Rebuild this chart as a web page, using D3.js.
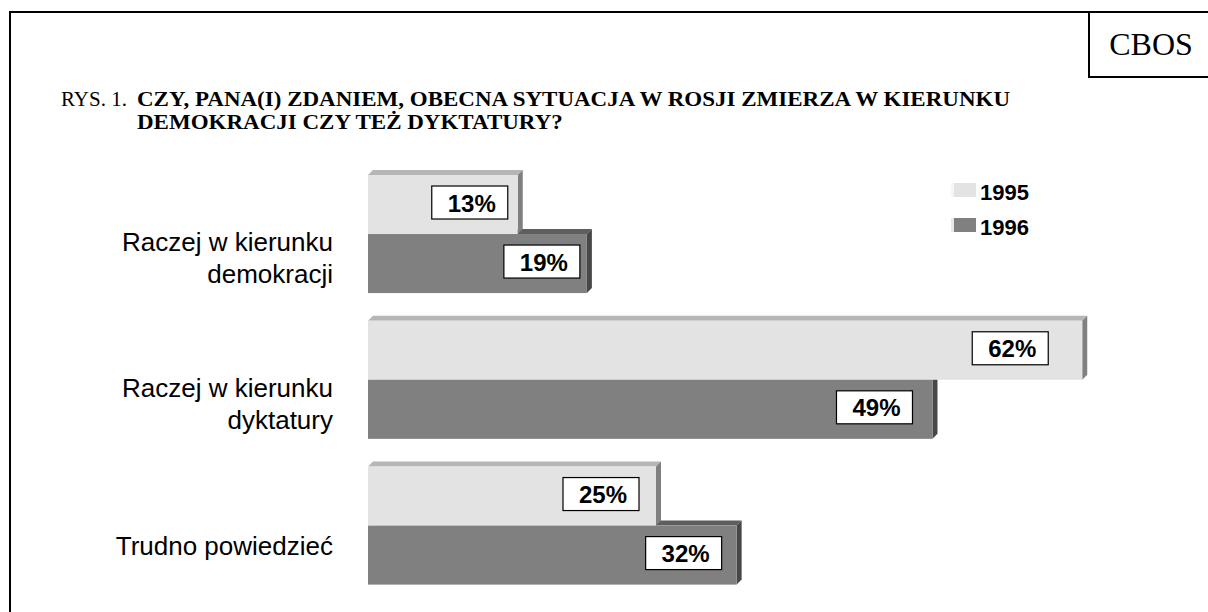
<!DOCTYPE html>
<html>
<head>
<meta charset="utf-8">
<script src="https://cdn.jsdelivr.net/npm/d3@7"></script>
<style>
  body { margin: 0; background: #fff; }
  svg { display: block; }
</style>
</head>
<body>
<div id="chart"></div>
<script>
// data
const categories = ["Raczej w kierunku|demokracji", "Raczej w kierunku|dyktatury", "Trudno powiedzieć"];
const years = ["1995", "1996"];
const values1995 = [13, 62, 25];
const values1996 = [19, 49, 32];
const titleLines = ["CZY, PANA(I) ZDANIEM, OBECNA SYTUACJA W ROSJI ZMIERZA W KIERUNKU", "DEMOKRACJI CZY TEŻ DYKTATURY?"];

const width = 1208, height = 612;
const depth = 5;

// colours: front, top, side
const shades = {
  "1995": { front: "#e3e3e3", top: "#b6b6b6", side: "#808080" },
  "1996": { front: "#808080", top: "#5e5e5e", side: "#474747" }
};

// how far the value box sits in from the end of each bar
const labelGap = { "1995": [10, 34, 17], "1996": [7, 20, 15] };

const serif = "Liberation Serif, Times New Roman, serif";
const sans = "Liberation Sans, Arial, sans-serif";

const svg = d3.select("#chart").append("svg")
  .attr("width", width)
  .attr("height", height);

// frame
svg.append("path")
  .attr("d", "M10,612 L10,12 L1208,12")
  .attr("fill", "none")
  .attr("stroke", "#000")
  .attr("stroke-width", 2);
svg.append("path")
  .attr("d", "M1089,12 L1089,77 L1208,77")
  .attr("fill", "none")
  .attr("stroke", "#000")
  .attr("stroke-width", 2);
svg.append("text")
  .attr("x", 1151).attr("y", 55)
  .attr("text-anchor", "middle")
  .attr("font-family", serif)
  .attr("font-size", 32)
  .text("CBOS");

// title
svg.append("text")
  .attr("x", 61).attr("y", 106)
  .attr("font-family", serif)
  .attr("font-size", 21)
  .text("RYS. 1.");

const titles = svg.selectAll("text.title")
  .data(titleLines)
  .join("text")
  .attr("class", "title")
  .attr("x", 137)
  .attr("y", (d, i) => 106 + i * 23)
  .attr("font-family", serif)
  .attr("font-weight", "bold")
  .attr("font-size", 22)
  .text(d => d);
const natural = titles.nodes().map(n => n.getComputedTextLength());
const stretch = 873 / natural[0];
titles
  .attr("textLength", (d, i) => natural[i] * stretch)
  .attr("lengthAdjust", "spacingAndGlyphs");

// scales
const x = d3.scaleLinear().domain([0, 100]).range([368, 1520]);
const y = d3.scaleBand().domain(categories).range([147.3, 612.3]).padding(0.19);
const ySub = d3.scaleBand().domain(years).range([0, y.bandwidth()]);

const series = years.map((yr, si) => ({
  year: yr,
  values: (si === 0 ? values1995 : values1996).map((v, i) => ({ cat: categories[i], v, i, year: yr }))
}));

// draw 1996 first so the 1995 bar sits over its top face
const bars = svg.append("g");
[...series].reverse().forEach(s => {
  const g = bars.append("g");
  s.values.forEach(d => {
    const x0 = x(0), x1 = x(d.v);
    const y0 = y(d.cat) + ySub(d.year), h = ySub.bandwidth();
    const c = shades[d.year];
    g.append("polygon")
      .attr("points", [[x0, y0], [x0 + depth, y0 - depth], [x1 + depth, y0 - depth], [x1, y0]].join(" "))
      .attr("fill", c.top);
    g.append("polygon")
      .attr("points", [[x1, y0], [x1 + depth, y0 - depth], [x1 + depth, y0 + h - depth], [x1, y0 + h]].join(" "))
      .attr("fill", c.side);
    g.append("rect")
      .attr("x", x0).attr("y", y0)
      .attr("width", x1 - x0).attr("height", h)
      .attr("fill", c.front);
  });
});

// value boxes
const boxW = 76, boxH = 33;
series.forEach(s => {
  s.values.forEach(d => {
    const right = x(d.v) - labelGap[d.year][d.i];
    const cy = y(d.cat) + ySub(d.year) + ySub.bandwidth() / 2 - 2;
    svg.append("rect")
      .attr("x", right - boxW).attr("y", cy - boxH / 2)
      .attr("width", boxW).attr("height", boxH)
      .attr("fill", "#fff")
      .attr("stroke", "#000")
      .attr("stroke-width", 1.2);
    svg.append("text")
      .attr("x", right - boxW / 2 + 2).attr("y", cy + 9)
      .attr("text-anchor", "middle")
      .attr("font-family", sans)
      .attr("font-weight", "bold")
      .attr("font-size", 24)
      .text(d.v + "%");
  });
});

// category labels
categories.forEach(cat => {
  const lines = cat.split("|");
  const mid = y(cat) + y.bandwidth() / 2 + 29 + (lines.length - 1) * 4;
  const t = svg.append("text")
    .attr("text-anchor", "end")
    .attr("font-family", sans)
    .attr("font-size", 26);
  lines.forEach((ln, i) => {
    t.append("tspan")
      .attr("x", 333)
      .attr("y", mid + (i - (lines.length - 1) / 2) * 32)
      .text(ln);
  });
});

// legend
const legend = svg.append("g");
years.forEach((yr, i) => {
  legend.append("rect")
    .attr("x", 951).attr("y", 183 + i * 35)
    .attr("width", 25).attr("height", 14)
    .attr("fill", shades[yr].front);
  legend.append("rect")
    .attr("x", 951).attr("y", 183 + i * 35)
    .attr("width", 3).attr("height", 14)
    .attr("fill", i === 0 ? "#f6f6f6" : "#e8e8e8");
  legend.append("text")
    .attr("x", 980).attr("y", 200 + i * 35)
    .attr("font-family", sans)
    .attr("font-weight", "bold")
    .attr("font-size", 22)
    .text(yr);
});
</script>
</body>
</html>
